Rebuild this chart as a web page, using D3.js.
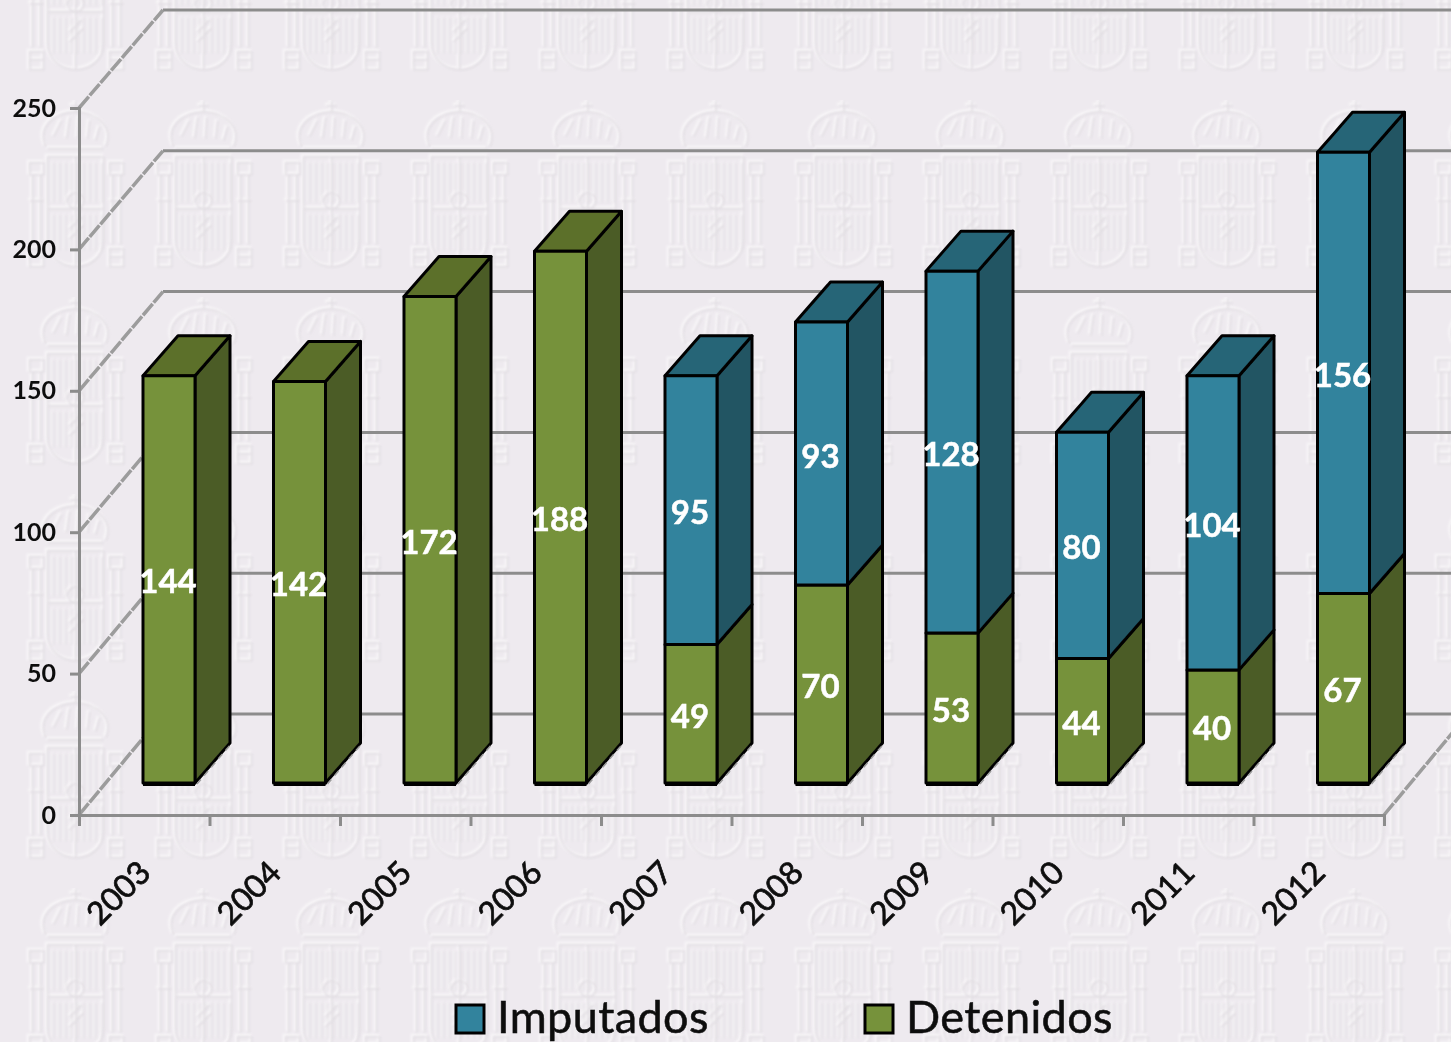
<!DOCTYPE html>
<html>
<head>
<meta charset="utf-8">
<script src="https://d3js.org/d3.v7.min.js"></script>
<style>
  html, body { margin: 0; padding: 0; background: #eeeaef; overflow: hidden; }
  svg { display: block; }
  text { font-family: Lato, "Open Sans", sans-serif; }
</style>
</head>
<body>
<svg id="chart" width="1451" height="1042"></svg>
<script>
"use strict";
var years = ["2003","2004","2005","2006","2007","2008","2009","2010","2011","2012"];
var detenidos = [144,142,172,188,49,70,53,44,40,67];
var imputados = [0,0,0,0,95,93,128,80,104,156];
var yTicks = [0,50,100,150,200,250];
var seriesNames = ["Imputados","Detenidos"];

var colors = {
  Detenidos: {front:"#76923a", side:"#4b5b25", top:"#5c6f29"},
  Imputados: {front:"#30839d", side:"#205464", top:"#266577"}
};

var W = 1451, H = 1042;
var svg = d3.select("#chart");
var defs = svg.append("defs");

// fake 3d: the back wall sits up and to the right of the front axes
var wallDx = 84;
var barInset = 64, barW = 52, barLift = 32, depthX = 35, depthY = -40;

var xEdge = d3.scaleLinear().domain([0,years.length]).range([79,1384]);
var y = d3.scaleLinear().domain([0,250]).range([815,108]);
var yBack = d3.scaleLinear().domain([0,250]).range([714,10]);

// ---- embossed crest watermark in the background ----
defs.append("filter").attr("id","soft").append("feGaussianBlur").attr("stdDeviation",1);
defs.append("filter").attr("id","tiny").append("feGaussianBlur").attr("stdDeviation",0.6);

var tile = defs.append("pattern").attr("id","crest")
  .attr("patternUnits","userSpaceOnUse")
  .attr("width",128).attr("height",197)
  .attr("patternTransform","translate(11,100)");

function drawCrest(g){
  g.attr("fill","none");
  // crown
  g.append("path").attr("d","M64,0V10M59,5H69M34,46C26,28 40,12 64,11C88,12 102,28 94,46M36,48H92");
  g.append("path").attr("d","M42,36L50,20M55,38L58,17M67,17L66,38M78,20L76,38M88,26L84,40");
  // shield and pillars
  g.append("path").attr("d","M36,56H92V140C92,158 76,166 64,166C52,166 36,158 36,140Z");
  g.append("path").attr("d","M64,56V166M36,108H92");
  d3.range(42,92,6).forEach(function(v){
    g.append("path").attr("d","M"+v+",62V102M"+v+",114V150").attr("stroke-width",1);
  });
  g.append("circle").attr("cx",64).attr("cy",100).attr("r",8);
  g.append("path").attr("d","M58,128L70,116M58,138L72,124");
  [18,98].forEach(function(px){
    g.append("path").attr("d","M"+px+",62h14v12h-14zM"+(px+3)+",74v70M"+(px+11)+",74v70M"+px+",100h14M"+px+",148h14v18h-14zM"+px+",156h14");
  });
}
var crestHi = tile.append("g").attr("stroke","#f8f6f8").attr("stroke-width",2.6)
  .attr("filter","url(#soft)").attr("transform","translate(-1,-1)");
drawCrest(crestHi);
var crestLo = tile.append("g").attr("stroke","#e2dee3").attr("stroke-width",1.6)
  .attr("filter","url(#soft)").attr("transform","translate(1,1)");
drawCrest(crestLo);

svg.append("rect").attr("width",W).attr("height",H).attr("fill","#eeeaef");
svg.append("rect").attr("width",W).attr("height",H).attr("fill","url(#crest)");

var chart = svg.append("g").attr("filter","url(#tiny)");

// ---- gridlines on back wall and the left/floor diagonals ----
var gridColor = "#8c8c8c";
var grid = chart.append("g").attr("stroke",gridColor).attr("stroke-width",3).attr("fill","none");
grid.selectAll("line.back").data(yTicks).join("line").attr("class","back")
  .attr("x1",xEdge(0)+wallDx).attr("x2",W)
  .attr("y1",function(d){ return yBack(d); })
  .attr("y2",function(d){ return yBack(d); });
grid.selectAll("line.diag").data(yTicks).join("line").attr("class","diag")
  .attr("stroke","#9c9c9c").attr("stroke-width",3.5).attr("stroke-dasharray","15 1.5")
  .attr("x1",xEdge(0)).attr("x2",xEdge(0)+wallDx)
  .attr("y1",function(d){ return y(d); })
  .attr("y2",function(d){ return yBack(d); });
grid.append("line").attr("stroke","#9c9c9c").attr("stroke-width",3.5).attr("stroke-dasharray","15 1.5")
  .attr("x1",xEdge(years.length)).attr("y1",y(0))
  .attr("x2",xEdge(years.length)+wallDx).attr("y2",yBack(0));

// ---- axes ----
var yAxis = chart.append("g").attr("transform","translate("+xEdge(0)+",0)")
  .call(d3.axisLeft(y).tickValues(yTicks).tickSize(9).tickPadding(14));
var xAxis = chart.append("g").attr("transform","translate(0,"+y(0)+")")
  .call(d3.axisBottom(xEdge).ticks(years.length).tickFormat("").tickSize(11));
[yAxis,xAxis].forEach(function(a){
  a.selectAll("path,line").attr("stroke",gridColor).attr("stroke-width",3);
  a.select(".domain").attr("stroke-width",3);
});
yAxis.selectAll("text").attr("font-size",25).attr("font-weight",700).attr("fill","#111")
  .attr("font-family","Lato, sans-serif");

chart.selectAll("text.year").data(years).join("text").attr("class","year")
  .attr("transform",function(d,i){
    return "translate("+(xEdge(i+1)-92)+",892) rotate(-45)";
  })
  .attr("text-anchor","middle").attr("dominant-baseline","central")
  .attr("font-size",32).attr("fill","#0a0a0a")
  .attr("stroke","#0a0a0a").attr("stroke-width",0.7)
  .text(function(d){ return d; });

// ---- stacked 3d bars ----
var table = years.map(function(year,i){
  return {year:year, i:i, Detenidos:detenidos[i], Imputados:imputados[i]};
});
var stacked = d3.stack().keys(["Detenidos","Imputados"])(table);
var baseY = y(0)-barLift;
var unit = function(v){ return baseY-(y(0)-y(v)); };

var segments = [];
table.forEach(function(row,i){
  stacked.forEach(function(layer){
    var s = layer[i];
    if (s[1]>s[0]) segments.push({key:layer.key, i:i, v0:s[0], v1:s[1], isTop:s[1]===(row.Detenidos+row.Imputados)});
  });
});

function pts(list){ return list.map(function(p){ return p.join(","); }).join(" "); }

var bars = chart.append("g").selectAll("g").data(segments).join("g")
  .attr("stroke","#050505").attr("stroke-width",3).attr("stroke-linejoin","round");

// side face
bars.append("polygon")
  .attr("fill",function(d){ return colors[d.key].side; })
  .attr("points",function(d){
    var x1 = xEdge(d.i)+barInset+barW;
    return pts([[x1,unit(d.v1)],[x1+depthX,unit(d.v1)+depthY],[x1+depthX,unit(d.v0)+depthY],[x1,unit(d.v0)]]);
  });
// top face, only on top of a stack
bars.filter(function(d){ return d.isTop; }).append("polygon")
  .attr("fill",function(d){ return colors[d.key].top; })
  .attr("points",function(d){
    var x0 = xEdge(d.i)+barInset, t = unit(d.v1);
    return pts([[x0,t],[x0+depthX,t+depthY],[x0+barW+depthX,t+depthY],[x0+barW,t]]);
  });
// front face
bars.append("rect")
  .attr("fill",function(d){ return colors[d.key].front; })
  .attr("x",function(d){ return xEdge(d.i)+barInset; })
  .attr("width",barW)
  .attr("y",function(d){ return unit(d.v1); })
  .attr("height",function(d){ return unit(d.v0)-unit(d.v1); });
// heavy line under the bars, and the grey floor edge showing through under the side
bars.filter(function(d){ return d.v0===0; }).append("line")
  .attr("stroke-width",4)
  .attr("x1",function(d){ return xEdge(d.i)+barInset; })
  .attr("x2",function(d){ return xEdge(d.i)+barInset+barW; })
  .attr("y1",baseY+1).attr("y2",baseY+1);
bars.filter(function(d){ return d.v0===0; }).append("line")
  .attr("stroke","#9c9c9c").attr("stroke-width",1.5).attr("stroke-dasharray","6 5")
  .attr("x1",function(d){ return xEdge(d.i)+barInset+barW+2; })
  .attr("x2",function(d){ return xEdge(d.i)+barInset+barW+depthX+1; })
  .attr("y1",baseY+1).attr("y2",baseY+depthY+1);

// ---- value labels ----
chart.append("g").selectAll("text").data(segments).join("text")
  .attr("x",function(d){ return xEdge(d.i)+barInset+barW/2-1; })
  .attr("y",function(d){ return (unit(d.v0)+unit(d.v1))/2+1; })
  .attr("text-anchor","middle").attr("dominant-baseline","central")
  .attr("font-size",33).attr("font-weight",700).attr("fill","#fff")
  .attr("stroke","#fff").attr("stroke-width",0.5)
  .text(function(d){ return d.v1-d.v0; });

// ---- legend ----
var legendX = d3.scaleOrdinal().domain(seriesNames).range([456,865]);
var legend = chart.append("g").selectAll("g").data(seriesNames).join("g")
  .attr("transform",function(d){ return "translate("+legendX(d)+",1005)"; });
legend.append("rect").attr("width",28).attr("height",28)
  .attr("fill",function(d){ return colors[d].front; })
  .attr("stroke","#050505").attr("stroke-width",3);
legend.append("text").attr("x",41).attr("y",28)
  .attr("font-size",45).attr("letter-spacing",0.4).attr("fill","#0a0a0a")
  .attr("stroke","#0a0a0a").attr("stroke-width",0.5)
  .text(function(d){ return d; });
</script>
</body>
</html>
